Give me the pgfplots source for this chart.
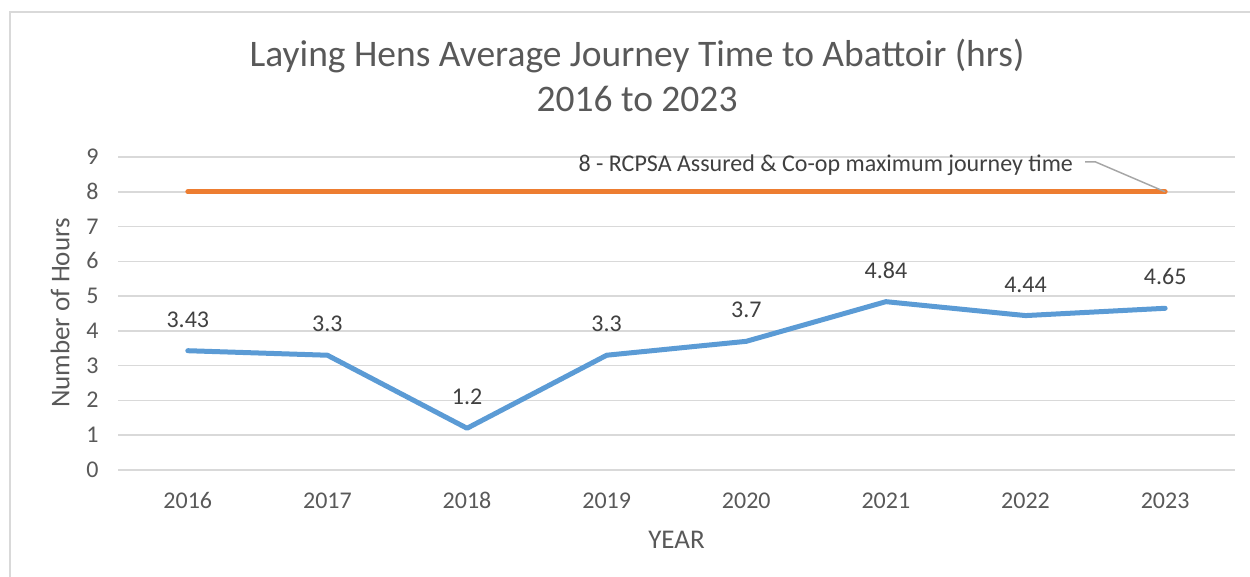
\documentclass[border=0pt]{standalone}
\usepackage{fontspec}
\setmainfont{Carlito}
\usepackage{pgfplots}
\pgfplotsset{compat=1.18}
\definecolor{txt}{HTML}{595959}
\definecolor{dtxt}{HTML}{404040}
\definecolor{gridc}{HTML}{D9D9D9}
\definecolor{blu}{HTML}{5B9BD5}
\definecolor{ora}{HTML}{ED7D31}
\definecolor{lead}{HTML}{A6A6A6}
\begin{document}
\begin{tikzpicture}
\useasboundingbox (0pt,0pt) rectangle (1250pt,577pt);
\draw[gridc, line width=1.5pt] (10pt,0pt) -- (10pt,565pt) -- (1250pt,565pt);
\node[anchor=base, font=\fontsize{37.5}{40}\selectfont, text=txt, inner sep=0pt] at (637pt,510pt) {Laying Hens Average Journey Time to Abattoir (hrs)};
\node[anchor=base, font=\fontsize{37.5}{40}\selectfont, text=txt, inner sep=0pt] at (637pt,465pt) {2016 to 2023};
\node[rotate=90, font=\fontsize{27}{30}\selectfont, text=txt, inner sep=0pt] at (60pt,264pt) {Number of Hours};
\begin{axis}[
  at={(118pt,107pt)}, anchor=south west, scale only axis,
  width=1117pt, height=313pt,
  xmin=-0.5, xmax=7.5, ymin=0, ymax=9,
  axis line style={draw=none},
  tick style={draw=none},
  ytick={0,1,...,9},
  xtick={0,1,...,7},
  xticklabels={2016,2017,2018,2019,2020,2021,2022,2023},
  ymajorgrids, grid style={gridc, line width=1.5pt},
  /pgf/number format/assume math mode=true,
  ticklabel style={font=\fontsize{24}{26}\selectfont, text=txt},
  xticklabel style={anchor=base, yshift=-39pt},
  yticklabel style={anchor=base east, xshift=-16pt, yshift=-7.5pt},
  xlabel={YEAR},
  xlabel style={font=\fontsize{27}{30}\selectfont, text=txt, anchor=base, at={(axis description cs:0.5,0)}, yshift=-79pt},
  clip=false,
  nodes near coords style={font=\fontsize{24}{26}\selectfont, text=dtxt, anchor=base, yshift=23.5pt},
]
\addplot[ora, line width=5pt, line cap=round] coordinates {(0,8) (1,8) (2,8) (3,8) (4,8) (5,8) (6,8) (7,8)};
\addplot[blu, line width=5pt, line cap=round, line join=round,
  nodes near coords, point meta=explicit symbolic]
  coordinates {(0,3.43)[3.43] (1,3.3)[3.3] (2,1.2)[1.2] (3,3.3)[3.3] (4,3.7)[3.7] (5,4.84)[4.84] (6,4.44)[4.44] (7,4.65)[4.65]};
\draw[lead, line width=1.5pt] (axis cs:7,8) -- ++(-70pt,30pt) -- ++(-10pt,0pt);
\node[anchor=base east, font=\fontsize{24}{26}\selectfont, text=dtxt, inner sep=0pt] at (axis cs:7,8) [xshift=-92pt, yshift=20pt] {8 - RCPSA Assured \& Co-op maximum journey time};
\end{axis}
\end{tikzpicture}
\end{document}
